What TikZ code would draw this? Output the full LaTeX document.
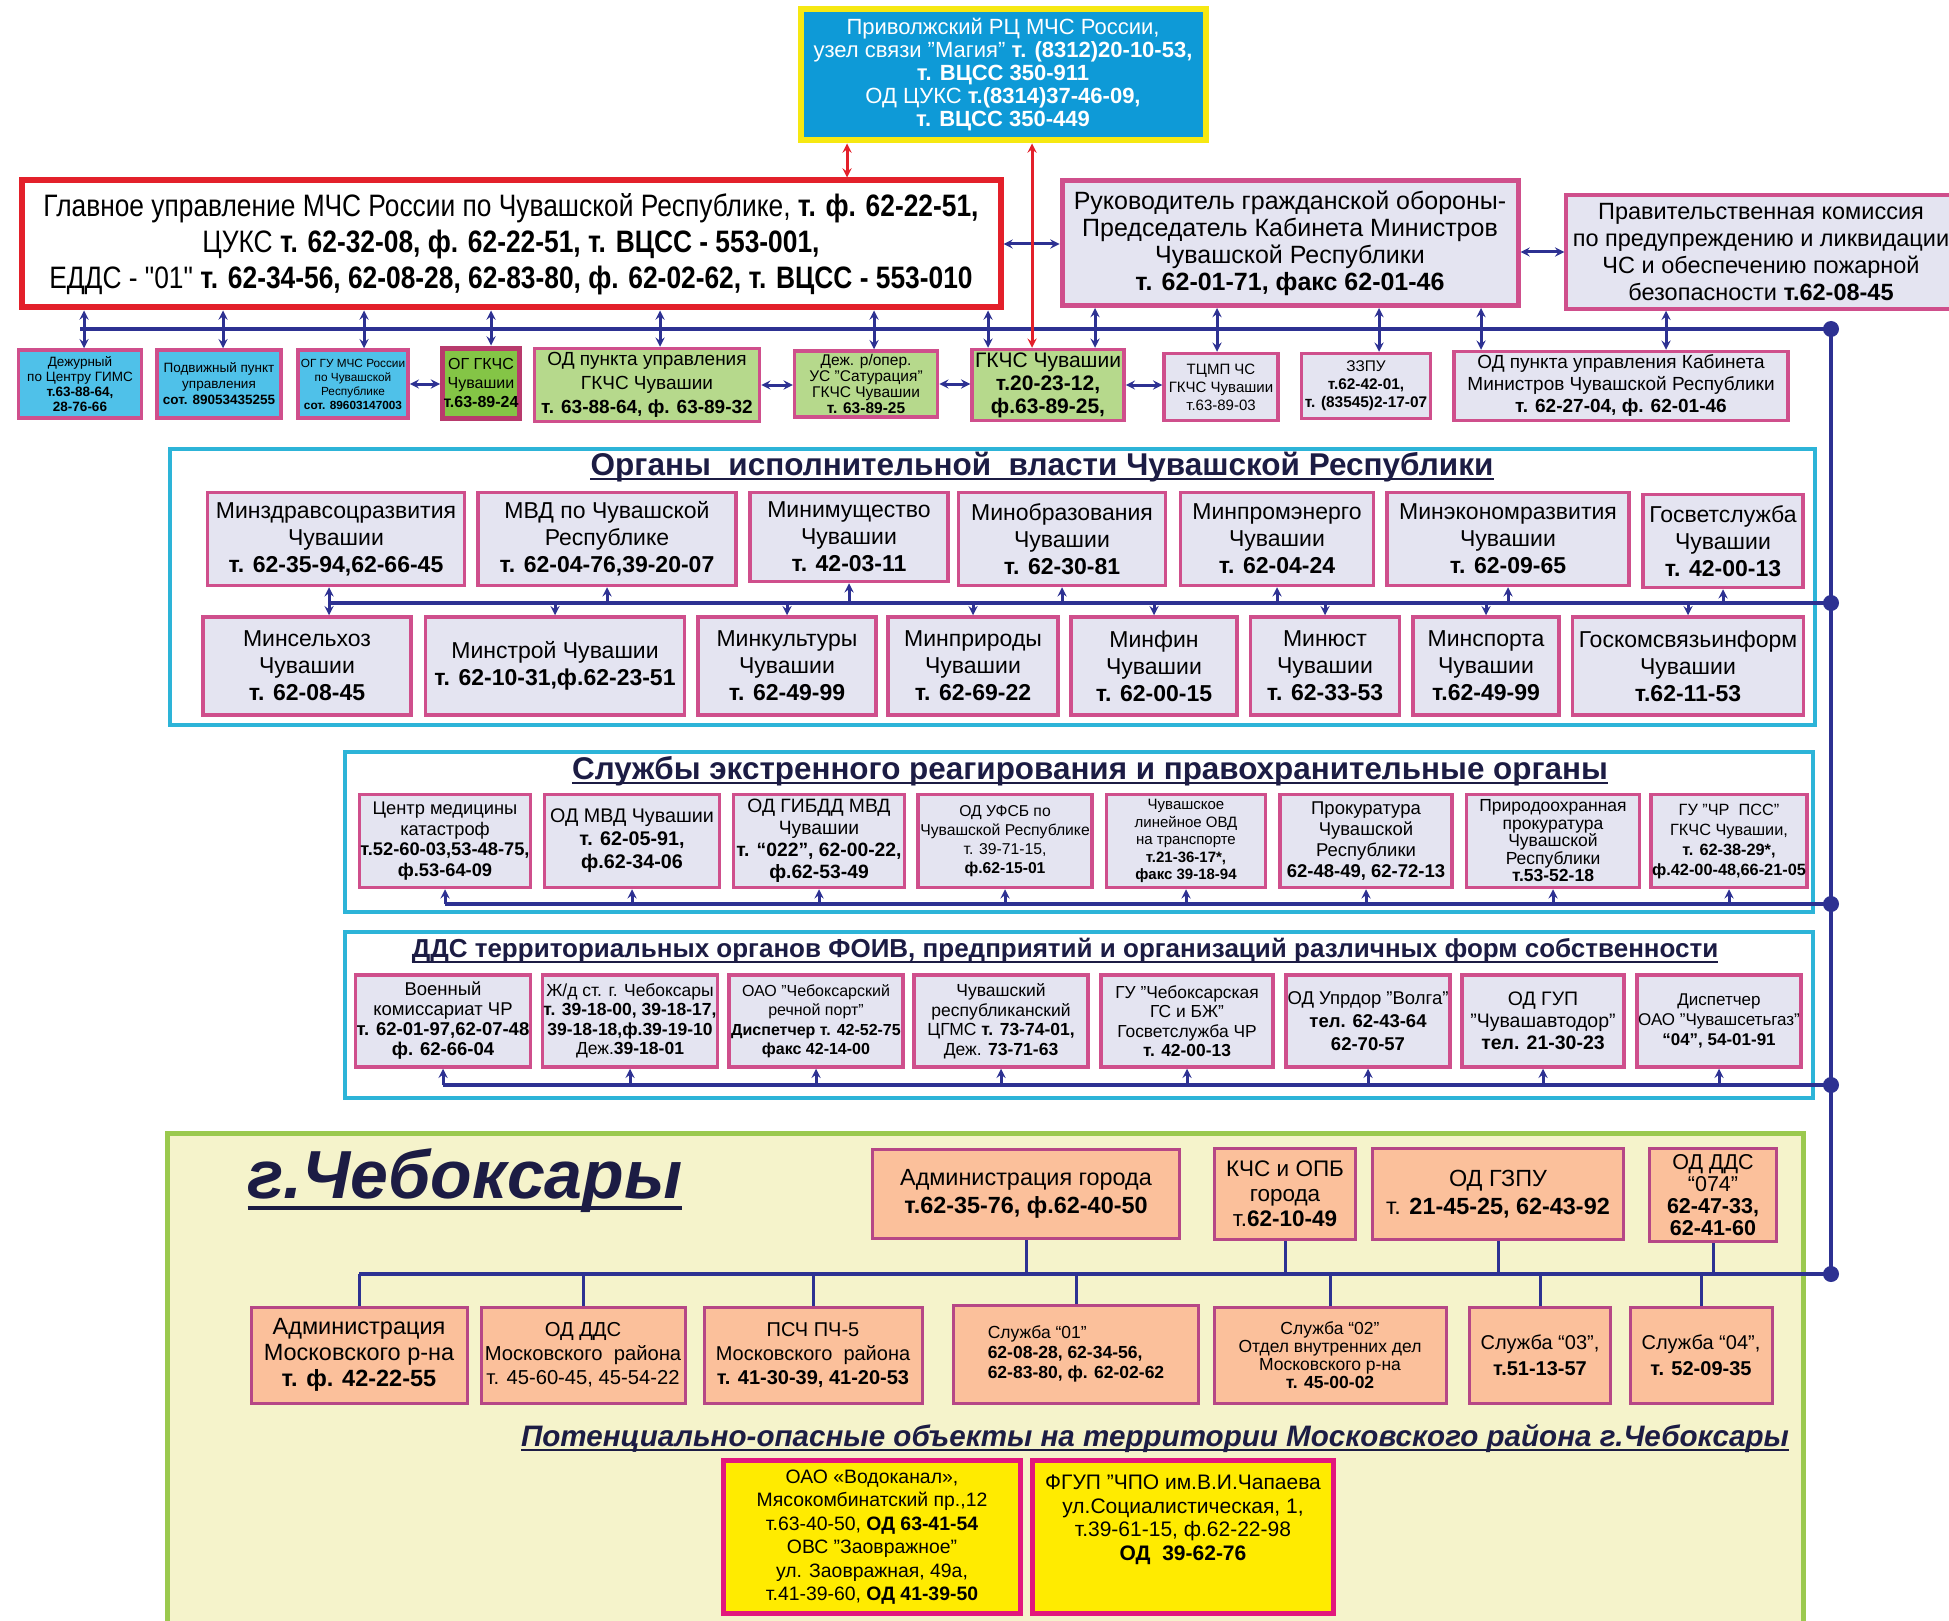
\documentclass[tikz,border=0pt]{standalone}
\usepackage{fontspec}
\setmainfont{Liberation Sans}
\newfontfamily\narfont[FakeStretch=0.85]{Liberation Sans}
\usepackage{xcolor}
\usepackage{tikz}
\usetikzlibrary{shapes,arrows,positioning,calc}

\definecolor{navyl}{HTML}{2D3192}
\definecolor{redl}{HTML}{E3202A}
\definecolor{pinkb}{HTML}{CF4F8C}
\definecolor{lavf}{HTML}{E4E4F1}
\definecolor{bluef}{HTML}{4FC1E9}
\definecolor{topf}{HTML}{0E9AD7}
\definecolor{yelb}{HTML}{F6E812}
\definecolor{greenf}{HTML}{84C546}
\definecolor{lgreenf}{HTML}{B6D98C}
\definecolor{darkpink}{HTML}{B83A6C}
\definecolor{cyanf}{HTML}{2DB4D8}
\definecolor{paley}{HTML}{F5F3CB}
\definecolor{grnb}{HTML}{9BC94E}
\definecolor{salf}{HTML}{FBC09B}
\definecolor{salb}{HTML}{B64786}
\definecolor{yelf}{HTML}{FFEB00}
\definecolor{magb}{HTML}{E2187D}
\definecolor{ttlc}{HTML}{1C1C44}

\newcommand{\fsz}[2]{\fontsize{#1}{#2}\selectfont}

\begin{document}
\begin{tikzpicture}[x=1pt, y=-1pt,
    base/.style={rectangle, align=center, inner sep=1pt, text=black},
    pbox/.style={base, draw=pinkb, line width=3.5pt, fill=lavf},
    bbox/.style={pbox, fill=bluef},
    gbox/.style={pbox, fill=lgreenf},
    sbox/.style={base, draw=salb, line width=3pt, fill=salf},
    ybox/.style={base, draw=magb, line width=5pt, fill=yelf},
    frame/.style={rectangle, draw=cyanf, line width=4pt, fill=white},
    ttl/.style={inner sep=0pt, text=ttlc},
    uline/.style={draw=ttlc, line width=2pt},
    bus/.style={draw=navyl, line width=3.5pt},
    link/.style={draw=navyl, line width=3pt},
    arrow/.style={->, draw=navyl, line width=3pt, >=stealth},
    dbl/.style={<->, draw=navyl, line width=3pt, >=stealth},
    redarrow/.style={<->, draw=redl, line width=3pt, >=stealth}
  ]
  \useasboundingbox (0,0) rectangle (1949,1621);
  \fill[white] (0,0) rectangle (1949,1621);

  % Frames
  \node[frame, minimum width=1645pt, minimum height=276pt] (org) at (992,587) {};
  \node[frame, minimum width=1468pt, minimum height=160pt] (srv) at (1079,832) {};
  \node[frame, minimum width=1468pt, minimum height=166pt] (dds) at (1079,1015) {};
  \node[rectangle, draw=grnb, line width=5pt, fill=paley, minimum width=1636pt, minimum height=505pt] (cheb) at (985,1386) {};

  % Top level
  \node[base, draw=yelb, fill=topf, line width=6pt, text=white, minimum width=405pt, minimum height=131pt, font={\fsz{22}{23}}] (rc) at (1003,75) {Приволжский РЦ МЧС России,\\узел связи "Магия" \textbf{т. (8312)20-10-53,}\\\textbf{т. ВЦСС 350-911}\\ОД ЦУКС \textbf{т.(8314)37-46-09,}\\\textbf{т. ВЦСС 350-449}};

  \node[base, draw=redl, fill=white, line width=6pt, minimum width=979pt, minimum height=127pt, font={\narfont\fsz{31}{36}}] (gu) at (511,244) {Главное управление МЧС России по Чувашской Республике, \textbf{т. ф. 62-22-51,}\\ЦУКС \textbf{т. 62-32-08, ф. 62-22-51, т. ВЦСС - 553-001,}\\ЕДДС - "01" \textbf{т. 62-34-56, 62-08-28, 62-83-80, ф. 62-02-62, т. ВЦСС - 553-010}};

  \node[pbox, line width=5pt, minimum width=456pt, minimum height=125pt, font={\fsz{25}{27}}] (ruk) at (1290,243) {Руководитель гражданской обороны-\\Председатель Кабинета Министров\\Чувашской Республики\\\textbf{т. 62-01-71, факс 62-01-46}};

  \node[pbox, minimum width=390pt, minimum height=114pt, font={\fsz{23.5}{27}}] (pravk) at (1761,252) {Правительственная комиссия\\по предупреждению и ликвидации\\ЧС и обеспечению пожарной\\безопасности \textbf{т.62-08-45}};

  % Duty services row
  \node[bbox, minimum width=123pt, minimum height=68pt, font={\fsz{13.5}{15}}] (dezh) at (80,384) {Дежурный\\по Центру ГИМС\\\textbf{т.63-88-64,}\\\textbf{28-76-66}};
  \node[bbox, minimum width=124pt, minimum height=68pt, font={\fsz{13.5}{16}}] (podv) at (219,384) {Подвижный пункт\\управления\\\textbf{сот. 89053435255}};
  \node[bbox, minimum width=110pt, minimum height=68pt, font={\fsz{11.8}{14}}] (oggu) at (353,384) {ОГ ГУ МЧС России\\по Чувашской\\Республике\\\textbf{сот. 89603147003}};
  \node[base, draw=darkpink, fill=greenf, line width=5pt, minimum width=77pt, minimum height=70pt, font={\fsz{16}{19}}] (oggkchs) at (481,383) {ОГ ГКЧС\\Чувашии\\\textbf{т.63-89-24}};
  \node[gbox, minimum width=225pt, minimum height=73pt, font={\fsz{19}{24}}] (odgkchs) at (647,385) {ОД пункта управления\\ГКЧС Чувашии\\\textbf{т. 63-88-64, ф. 63-89-32}};
  \node[gbox, minimum width=143pt, minimum height=66pt, font={\fsz{15.5}{16}}] (dezhrop) at (866,384) {Деж. р/опер.\\УС "Сатурация"\\ГКЧС Чувашии\\\textbf{т. 63-89-25}};
  \node[gbox, minimum width=152pt, minimum height=71pt, font={\fsz{21}{23}}] (gkchs) at (1048,385) {ГКЧС Чувашии\\\textbf{т.20-23-12,}\\\textbf{ф.63-89-25,}};
  \node[pbox, minimum width=114pt, minimum height=67pt, font={\fsz{15}{18}}] (tcmp) at (1221,387) {ТЦМП ЧС\\ГКЧС Чувашии\\т.63-89-03};
  \node[pbox, minimum width=129pt, minimum height=65pt, font={\fsz{15.4}{18}}] (zzpu) at (1366,386) {ЗЗПУ\\\textbf{т.62-42-01,}\\\textbf{т. (83545)2-17-07}};
  \node[pbox, minimum width=334pt, minimum height=69pt, font={\fsz{19}{22}}] (odkab) at (1621,386) {ОД пункта управления Кабинета\\Министров Чувашской Республики\\\textbf{т. 62-27-04, ф. 62-01-46}};

  % Executive bodies
  \node[ttl, font={\bfseries\fsz{31.5}{34}}] (orgt) at (1042,467) {Органы\ \ исполнительной\ \ власти Чувашской Республики};
  \tikzset{obox/.style={pbox, font={\fsz{23}{27}}}}
  \node[obox, minimum width=257pt, minimum height=93pt] (mzdrav) at (336,539) {Минздравсоцразвития\\Чувашии\\\textbf{т. 62-35-94,62-66-45}};
  \node[obox, minimum width=258pt, minimum height=93pt] (mvd) at (607,539) {МВД по Чувашской\\Республике\\\textbf{т. 62-04-76,39-20-07}};
  \node[obox, minimum width=198pt, minimum height=89pt] (mimush) at (849,537) {Минимущество\\Чувашии\\\textbf{т. 42-03-11}};
  \node[obox, minimum width=207pt, minimum height=93pt] (mobr) at (1062,539) {Минобразования\\Чувашии\\\textbf{т. 62-30-81}};
  \node[obox, minimum width=193pt, minimum height=93pt] (mprom) at (1277,539) {Минпромэнерго\\Чувашии\\\textbf{т. 62-04-24}};
  \node[obox, minimum width=242pt, minimum height=93pt] (mecon) at (1508,539) {Минэкономразвития\\Чувашии\\\textbf{т. 62-09-65}};
  \node[obox, minimum width=160pt, minimum height=93pt] (gosvet) at (1723,541) {Госветслужба\\Чувашии\\\textbf{т. 42-00-13}};

  \node[obox, minimum width=208pt, minimum height=98pt] (mselh) at (307,666) {Минсельхоз\\Чувашии\\\textbf{т. 62-08-45}};
  \node[obox, minimum width=259pt, minimum height=98pt] (mstroy) at (555,666) {Минстрой Чувашии\\\textbf{т. 62-10-31,ф.62-23-51}};
  \node[obox, minimum width=178pt, minimum height=98pt] (mkult) at (787,666) {Минкультуры\\Чувашии\\\textbf{т. 62-49-99}};
  \node[obox, minimum width=170pt, minimum height=98pt] (mprir) at (973,666) {Минприроды\\Чувашии\\\textbf{т. 62-69-22}};
  \node[obox, minimum width=166pt, minimum height=98pt] (mfin) at (1154,666) {Минфин\\Чувашии\\\textbf{т. 62-00-15}};
  \node[obox, minimum width=149pt, minimum height=98pt] (myust) at (1325,666) {Минюст\\Чувашии\\\textbf{т. 62-33-53}};
  \node[obox, minimum width=146pt, minimum height=98pt] (msport) at (1486,666) {Минспорта\\Чувашии\\\textbf{т.62-49-99}};
  \node[obox, minimum width=231pt, minimum height=98pt] (gkomsv) at (1688,666) {Госкомсвязьинформ\\Чувашии\\\textbf{т.62-11-53}};

  % Emergency and law enforcement services
  \node[ttl, font={\bfseries\fsz{31.4}{34}}] (srvt) at (1090,771) {Службы экстренного реагирования и правохранительные органы};
  \node[pbox, minimum width=171pt, minimum height=93pt, font={\fsz{18.3}{20.5}}] (cmk) at (445,841) {Центр медицины\\катастроф\\\textbf{т.52-60-03,53-48-75,}\\\textbf{ф.53-64-09}};
  \node[pbox, minimum width=175pt, minimum height=93pt, font={\fsz{19.7}{23}}] (odmvd) at (632,841) {ОД МВД Чувашии\\\textbf{т. 62-05-91,}\\\textbf{ф.62-34-06}};
  \node[pbox, minimum width=171pt, minimum height=93pt, font={\fsz{19.3}{22}}] (gibdd) at (819,841) {ОД ГИБДД МВД\\Чувашии\\\textbf{т. “022”, 62-00-22,}\\\textbf{ф.62-53-49}};
  \node[pbox, minimum width=174pt, minimum height=93pt, font={\fsz{15.7}{19}}] (ufsb) at (1005,841) {ОД УФСБ по\\Чувашской Республике\\т. 39-71-15,\\\textbf{ф.62-15-01}};
  \node[pbox, minimum width=159pt, minimum height=93pt, font={\fsz{15}{17.5}}] (lovd) at (1186,841) {Чувашское\\линейное ОВД\\на транспорте\\\textbf{т.21-36-17*,}\\\textbf{факс 39-18-94}};
  \node[pbox, minimum width=172pt, minimum height=93pt, font={\fsz{18.5}{21}}] (prok) at (1366,841) {Прокуратура\\Чувашской\\Республики\\\textbf{62-48-49, 62-72-13}};
  \node[pbox, minimum width=173pt, minimum height=93pt, font={\fsz{17.5}{17.5}}] (prirprok) at (1553,841) {Природоохранная\\прокуратура\\Чувашской\\Республики\\\textbf{т.53-52-18}};
  \node[pbox, minimum width=151pt, minimum height=93pt, font={\fsz{16.3}{20}}] (pss) at (1729,841) {ГУ "ЧР\ \ ПСС"\\ГКЧС Чувашии,\\\textbf{т. 62-38-29*,}\\\textbf{ф.42-00-48,66-21-05}};

  % Duty dispatch services of territorial bodies
  \node[ttl, font={\bfseries\fsz{26}{29}}] (ddst) at (1065,951) {ДДС территориальных органов ФОИВ, предприятий и организаций различных форм собственности};
  \node[pbox, minimum width=174pt, minimum height=92pt, font={\fsz{18.5}{20}}] (voenk) at (443,1021) {Военный\\комиссариат ЧР\\\textbf{т. 62-01-97,62-07-48}\\\textbf{ф. 62-66-04}};
  \node[pbox, minimum width=173pt, minimum height=92pt, font={\fsz{17.5}{19.5}}] (zhd) at (630,1021) {Ж/д ст. г. Чебоксары\\\textbf{т. 39-18-00, 39-18-17,}\\\textbf{39-18-18,ф.39-19-10}\\Деж.\textbf{39-18-01}};
  \node[pbox, minimum width=174pt, minimum height=92pt, font={\fsz{16}{19.5}}] (port) at (816,1021) {ОАО "Чебоксарский\\речной порт"\\\textbf{Диспетчер т. 42-52-75}\\\textbf{факс 42-14-00}};
  \node[pbox, minimum width=174pt, minimum height=92pt, font={\fsz{17.5}{19.5}}] (cgms) at (1001,1021) {Чувашский\\республиканский\\ЦГМС \textbf{т. 73-74-01,}\\Деж. \textbf{73-71-63}};
  \node[pbox, minimum width=172pt, minimum height=92pt, font={\fsz{17.4}{19.5}}] (gsbzh) at (1187,1021) {ГУ "Чебоксарская\\ГС и БЖ"\\Госветслужба ЧР\\\textbf{т. 42-00-13}};
  \node[pbox, minimum width=164pt, minimum height=92pt, font={\fsz{18.5}{23}}] (uprdor) at (1368,1021) {ОД Упрдор "Волга"\\\textbf{тел. 62-43-64}\\\textbf{62-70-57}};
  \node[pbox, minimum width=162pt, minimum height=92pt, font={\fsz{19.5}{22}}] (avtodor) at (1543,1021) {ОД ГУП\\"Чувашавтодор"\\\textbf{тел. 21-30-23}};
  \node[pbox, minimum width=163pt, minimum height=92pt, font={\fsz{17}{20}}] (setgaz) at (1719,1021) {Диспетчер\\ОАО "Чувашсетьгаз"\\\textbf{“04”, 54-01-91}};

  % Cheboksary
  \node[ttl, font={\bfseries\itshape\fsz{68}{74}}] (chebt) at (465,1181) {г.Чебоксары};
  \node[sbox, minimum width=307pt, minimum height=89pt, font={\fsz{23.4}{28}}] (admg) at (1026,1194) {Администрация города\\\textbf{т.62-35-76, ф.62-40-50}};
  \node[sbox, minimum width=141pt, minimum height=91pt, font={\fsz{22.5}{25}}] (kchs) at (1285,1194) {КЧС и ОПБ\\города\\т.\textbf{62-10-49}};
  \node[sbox, minimum width=251pt, minimum height=91pt, font={\fsz{23.4}{28}}] (odgzpu) at (1498,1194) {ОД ГЗПУ\\т. \textbf{21-45-25, 62-43-92}};
  \node[sbox, minimum width=127pt, minimum height=93pt, font={\fsz{21.5}{22}}] (oddds) at (1713,1195) {ОД ДДС\\“074”\\\textbf{62-47-33,}\\\textbf{62-41-60}};

  \node[sbox, minimum width=216pt, minimum height=96pt, font={\fsz{23.5}{26}}] (admm) at (359,1355) {Администрация\\Московского р-на\\\textbf{т. ф. 42-22-55}};
  \node[sbox, minimum width=204pt, minimum height=96pt, font={\fsz{20.2}{24}}] (odddsm) at (583,1355) {ОД ДДС\\Московского\ \ района\\т. 45-60-45, 45-54-22};
  \node[sbox, minimum width=218pt, minimum height=96pt, font={\fsz{20}{24}}] (psch) at (813,1355) {ПСЧ ПЧ-5\\Московского\ \ района\\\textbf{т. 41-30-39, 41-20-53}};
  \node[sbox, minimum width=245pt, minimum height=98pt, font={\fsz{17.5}{20}}, align=left] (s01) at (1076,1354) {Служба “01”\\\textbf{62-08-28, 62-34-56,}\\\textbf{62-83-80, ф. 62-02-62}};
  \node[sbox, minimum width=232pt, minimum height=96pt, font={\fsz{17.5}{18}}] (s02) at (1330,1355) {Служба “02”\\Отдел внутренних дел\\Московского р-на\\\textbf{т. 45-00-02}};
  \node[sbox, minimum width=141pt, minimum height=96pt, font={\fsz{20}{26}}] (s03) at (1540,1355) {Служба “03”,\\\textbf{т.51-13-57}};
  \node[sbox, minimum width=142pt, minimum height=96pt, font={\fsz{20}{26}}] (s04) at (1701,1355) {Служба “04”,\\\textbf{т. 52-09-35}};

  % Potentially dangerous objects
  \node[ttl, font={\bfseries\itshape\fsz{29.6}{33}}] (pott) at (1155,1438) {Потенциально-опасные объекты на территории Московского района г.Чебоксары};
  \node[ybox, minimum width=297pt, minimum height=153pt, font={\fsz{19.4}{23.5}}] (vodok) at (872,1537) {ОАО «Водоканал»,\\Мясокомбинатский пр.,12\\т.63-40-50, \textbf{ОД 63-41-54}\\ОВС "Заовражное"\\ул. Заовражная, 49а,\\т.41-39-60, \textbf{ОД 41-39-50}};
  \node[ybox, minimum width=301pt, minimum height=153pt, font={\fsz{21}{23.5}}] (chpo) at (1183,1537) {ФГУП "ЧПО им.В.И.Чапаева\\ул.Социалистическая, 1,\\т.39-61-15, ф.62-22-98\\\textbf{ОД\ \ 39-62-76}\\[15pt]\mbox{}};

  % Title underlines
  \foreach \t in {orgt,srvt,ddst,pott}
    \draw[uline] ([yshift=-4pt]\t.base west) -- ([yshift=-4pt]\t.base east);
  \draw[uline, line width=3.5pt] ([yshift=-9pt]chebt.base west) -- ([yshift=-9pt]chebt.base east);

  % Bus lines and trunk
  \coordinate (b1) at (1831,329);
  \coordinate (b2) at (1831,603);
  \coordinate (b3) at (1831,904);
  \coordinate (b4) at (1831,1085);
  \coordinate (b5) at (1831,1274);
  \draw[bus] (dezh.north |- b1) -- (b1);
  \draw[bus] (b1) -- (b5);

  % Links from the main office and the head of civil defence
  \foreach \n/\d in {dezh/4, podv/4, oggu/11, oggkchs/10, odgkchs/13, dezhrop/8, gkchs/-60}{
    \coordinate (t) at ([xshift=\d pt]\n.north);
    \draw[dbl] (t) -- (t |- gu.south);
  }
  \foreach \n/\d in {gkchs/47, tcmp/-4, zzpu/13, odkab/-140}{
    \coordinate (t) at ([xshift=\d pt]\n.north);
    \draw[dbl] (t) -- (t |- ruk.south);
  }
  \coordinate (t) at ([xshift=45pt]odkab.north);
  \draw[dbl] (t) -- (t |- pravk.south);

  \draw[dbl] (gu.east) -- (gu.east -| ruk.west);
  \draw[dbl] (pravk.west -| ruk.east) -- (pravk.west);
  \draw[dbl] (oggu.east) -- (oggu.east -| oggkchs.west);
  \draw[dbl] (odgkchs.east) -- (odgkchs.east -| dezhrop.west);
  \draw[dbl] (dezhrop.east) -- (dezhrop.east -| gkchs.west);
  \draw[dbl] (gkchs.east) -- (gkchs.east -| tcmp.west);

  % Red links to the regional centre
  \coordinate (r1) at ([xshift=-156pt]rc.south);
  \draw[redarrow] (r1) -- (r1 |- gu.north);
  \coordinate (r2) at ([xshift=-16pt]gkchs.north);
  \draw[redarrow] (r2) -- (r2 |- rc.south);

  % Executive bodies bus
  \coordinate (t) at ([xshift=-7pt]mzdrav.south);
  \draw[bus] (t |- b2) -- (b2);
  \draw[dbl] (t) -- (t |- mselh.north);
  \foreach \n in {mvd,mimush,mobr,mprom,mecon,gosvet}
    \draw[arrow] (\n.south |- b2) -- (\n.south);
  \foreach \n in {mstroy,mkult,mprir,mfin,myust,msport,gkomsv}
    \draw[arrow] (\n.north |- b2) -- (\n.north);

  % Services bus
  \draw[bus] (cmk.south |- b3) -- (b3);
  \foreach \n in {cmk,odmvd,gibdd,ufsb,lovd,prok,prirprok,pss}
    \draw[arrow] (\n.south |- b3) -- (\n.south);

  % DDS bus
  \draw[bus] (voenk.south |- b4) -- (b4);
  \foreach \n in {voenk,zhd,port,cgms,gsbzh,uprdor,avtodor,setgaz}
    \draw[arrow] (\n.south |- b4) -- (\n.south);

  % City bus
  \draw[bus] (admm.north |- b5) -- (b5);
  \foreach \n in {admg,kchs,odgzpu,oddds}
    \draw[link] (\n.south) -- (\n.south |- b5);
  \foreach \n in {admm,odddsm,psch,s01,s02,s03,s04}
    \draw[link] (\n.north |- b5) -- (\n.north);

  \foreach \c in {b1,b2,b3,b4,b5}
    \fill[navyl] (\c) circle (8pt);
\end{tikzpicture}
\end{document}
